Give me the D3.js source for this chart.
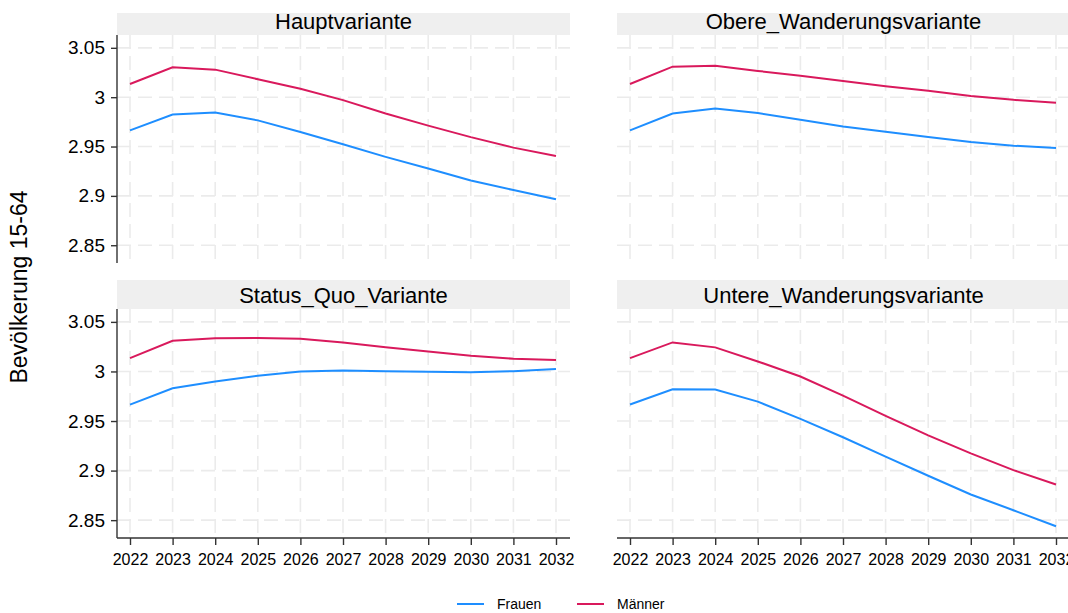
<!DOCTYPE html>
<html>
<head>
<meta charset="utf-8">
<script src="https://cdn.jsdelivr.net/npm/d3@7"></script>
<style>
  body { margin: 0; background: #fff; }
  text { font-family: "Liberation Sans", Arial, sans-serif; fill: #000; }
</style>
</head>
<body>
<div id="grafiekContainer"></div>
<script>

var jaren = [2022, 2023, 2024, 2025, 2026, 2027, 2028, 2029, 2030, 2031, 2032];
var panelNamen = ["Hauptvariante", "Obere_Wanderungsvariante", "Status_Quo_Variante", "Untere_Wanderungsvariante"];
var reeksNamen = ["Frauen", "Männer"];

var hauptFrauen = [2.9664, 2.9825, 2.9845, 2.9765, 2.9647, 2.9523, 2.9395, 2.9277, 2.9155, 2.9059, 2.8966];
var hauptMaenner = [3.0134, 3.0303, 3.0279, 3.0182, 3.0086, 2.9970, 2.9834, 2.9712, 2.9595, 2.9489, 2.9405];
var obereFrauen = [2.9664, 2.9835, 2.9886, 2.9839, 2.9771, 2.9704, 2.9650, 2.9597, 2.9546, 2.9509, 2.9486];
var obereMaenner = [3.0134, 3.0309, 3.0319, 3.0266, 3.0218, 3.0165, 3.0111, 3.0064, 3.0013, 2.9973, 2.9943];
var statusFrauen = [2.9666, 2.9831, 2.9899, 2.9956, 3.0000, 3.0010, 3.0003, 2.9997, 2.9993, 3.0003, 3.0024];
var statusMaenner = [3.0135, 3.0310, 3.0334, 3.0337, 3.0330, 3.0293, 3.0243, 3.0202, 3.0159, 3.0128, 3.0115];
var untereFrauen = [2.9666, 2.9821, 2.9818, 2.9696, 2.9521, 2.9336, 2.9140, 2.8948, 2.8759, 2.8600, 2.8438];
var untereMaenner = [3.0135, 3.0293, 3.0243, 3.0101, 2.9949, 2.9757, 2.9551, 2.9356, 2.9174, 2.9005, 2.8860];

var yTicks = [2.85, 2.9, 2.95, 3, 3.05];
var yTickLabels = ["2.85", "2.9", "2.95", "3", "3.05"];

var reeksen = [
  [hauptFrauen, hauptMaenner],
  [obereFrauen, obereMaenner],
  [statusFrauen, statusMaenner],
  [untereFrauen, untereMaenner]
];

var kleuren = ["#1E8EFF", "#D9195C"];
var breedte = 1068, hoogte = 613;

// posities van de vier panelen
var panelen = [
  {links: 117, rechts: 570, stripBoven: 13, stripOnder: 35, onder: 263, kolom: 0, rij: 0},
  {links: 617, rechts: 1070, stripBoven: 13, stripOnder: 35, onder: 263, kolom: 1, rij: 0},
  {links: 117, rechts: 570, stripBoven: 280, stripOnder: 309, onder: 538, kolom: 0, rij: 1},
  {links: 617, rechts: 1070, stripBoven: 280, stripOnder: 309, onder: 538, kolom: 1, rij: 1}
];

// maak een SVG element
var svg = d3.select("#grafiekContainer")
            .append("svg")
            .attr("width", breedte)
            .attr("height", hoogte);

panelen.forEach(function(p, i) {

  var x = d3.scaleLinear()
            .domain([d3.min(jaren), d3.max(jaren)])
            .range([p.links + 13, p.rechts - 14]);

  var y = d3.scaleLinear()
            .domain([2.832, 3.063])
            .range([p.onder, p.stripOnder]);

  // strip met de titel
  svg.append("rect")
     .attr("x", p.links)
     .attr("y", p.stripBoven)
     .attr("width", p.rechts - p.links)
     .attr("height", p.stripOnder - p.stripBoven)
     .attr("fill", "#efefef");

  svg.append("text")
     .attr("x", (p.links + p.rechts) / 2)
     .attr("y", p.stripOnder - 6)
     .attr("text-anchor", "middle")
     .style("font-size", "22px")
     .text(panelNamen[i]);

  // rasterlijnen
  svg.append("g")
     .selectAll("line")
     .data(yTicks)
     .enter()
     .append("line")
     .attr("x1", p.links)
     .attr("x2", p.rechts)
     .attr("y1", function(d) { return y(d); })
     .attr("y2", function(d) { return y(d); })
     .attr("stroke", "#ebebeb")
     .attr("stroke-width", 1.6)
     .attr("stroke-dasharray", "14,7");

  svg.append("g")
     .selectAll("line")
     .data(jaren)
     .enter()
     .append("line")
     .attr("x1", function(d) { return x(d); })
     .attr("x2", function(d) { return x(d); })
     .attr("y1", p.stripOnder)
     .attr("y2", p.onder)
     .attr("stroke", "#ebebeb")
     .attr("stroke-width", 1.6)
     .attr("stroke-dasharray", "14,7");

  // y-as alleen links
  if (p.kolom == 0) {
    var asY = d3.axisLeft(y)
                .tickValues(yTicks)
                .tickFormat(function(d, j) { return yTickLabels[j]; })
                .tickSize(6)
                .tickPadding(6);

    var gY = svg.append("g")
                .attr("transform", "translate(" + p.links + ",0)")
                .call(asY);
    gY.select(".domain").attr("stroke", "#333").attr("stroke-width", 1.4)
      .attr("d", "M0," + p.stripOnder + "V" + p.onder);
    gY.selectAll(".tick line").attr("stroke", "#333").attr("stroke-width", 1.4);
    gY.selectAll("text")
      .style("font-size", "19px")
      .attr("font-family", null)
      .attr("fill", "#000");
  }

  // x-as alleen onder
  if (p.rij == 1) {
    var asX = d3.axisBottom(x)
                .tickValues(jaren)
                .tickFormat(d3.format("d"))
                .tickSize(7);

    var gX = svg.append("g")
                .attr("transform", "translate(0," + p.onder + ")")
                .call(asX);
    gX.select(".domain").attr("stroke", "#333").attr("stroke-width", 1.4)
      .attr("d", "M" + p.links + ",0H" + p.rechts);
    gX.selectAll(".tick line").attr("stroke", "#333").attr("stroke-width", 1.4);
    gX.selectAll("text")
      .attr("y", 27)
      .attr("dy", 0)
      .style("font-size", "16px")
      .attr("font-family", null)
      .attr("fill", "#000");
  }

  // de lijnen
  var lijn = d3.line()
               .x(function(d, j) { return x(jaren[j]); })
               .y(function(d) { return y(d); });

  reeksen[i].forEach(function(waarden, k) {
    svg.append("path")
       .datum(waarden)
       .attr("d", lijn)
       .attr("fill", "none")
       .attr("stroke", kleuren[k])
       .attr("stroke-width", 2);
  });
});

// titel van de y-as
svg.append("text")
   .attr("transform", "rotate(-90)")
   .attr("x", -287)
   .attr("y", 27)
   .attr("text-anchor", "middle")
   .style("font-size", "23px")
   .text("Bevölkerung 15-64");

// legenda
var legendaX = [457, 577];
reeksNamen.forEach(function(naam, k) {
  svg.append("line")
     .attr("x1", legendaX[k])
     .attr("x2", legendaX[k] + 27)
     .attr("y1", 604)
     .attr("y2", 604)
     .attr("stroke", kleuren[k])
     .attr("stroke-width", 2);

  svg.append("text")
     .attr("x", legendaX[k] + 40)
     .attr("y", 609)
     .style("font-size", "14px")
     .text(naam);
});

</script>
</body>
</html>
